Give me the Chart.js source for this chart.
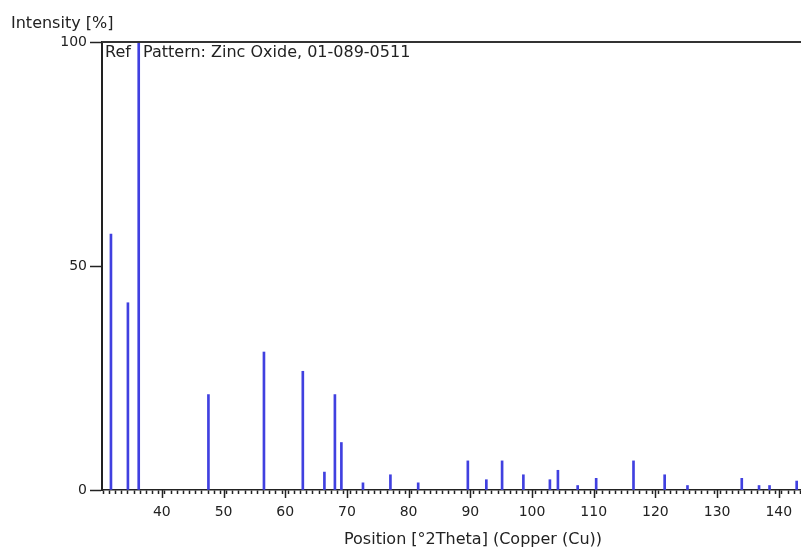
<!DOCTYPE html>
<html>
<head>
<meta charset="utf-8">
<script src="https://cdn.jsdelivr.net/npm/chart.js@4.4.1/dist/chart.umd.min.js"></script>
<style>
  html, body { margin: 0; padding: 0; background: #fff; }
  #wrap { width: 801px; height: 550px; }
</style>
</head>
<body>
<div id="wrap"><canvas id="xrd"></canvas></div>
<script>
// Zinc Oxide reference pattern (01-089-0511), Cu radiation
const positions = [31.75, 34.5, 36.25, 47.55, 56.55, 62.85, 66.35, 68.05, 69.1, 72.6, 77.05, 81.55,
  89.6, 92.6, 95.15, 98.6, 102.9, 104.2, 107.4, 110.4, 116.45, 121.5, 125.2, 134.0, 136.8, 138.5, 142.9];
const intensities = [57.1, 41.8, 100, 21.3, 30.8, 26.5, 4.0, 21.3, 10.6, 1.6, 3.4, 1.6,
  6.5, 2.3, 6.5, 3.4, 2.3, 4.4, 1.0, 2.6, 6.5, 3.4, 1.0, 2.6, 1.0, 1.0, 2.0];
const yTicks = [0, 50, 100];
const xRange = [30.8, 143.1];

const FONT = 'DejaVu Sans';
const INK = '#222';

const peaks = positions.map((p, i) => ({ x: p, y: intensities[i] }));

// frame line on top, long ticks every 10 degrees and the text labels
const decor = {
  id: 'decor',
  afterDraw(chart) {
    const { ctx, chartArea: a, scales: { x } } = chart;
    ctx.save();
    ctx.strokeStyle = '#333';
    ctx.lineWidth = 2;
    ctx.beginPath();
    ctx.moveTo(a.left, a.top);
    ctx.lineTo(chart.width, a.top);
    ctx.stroke();

    ctx.lineWidth = 1.5;
    ctx.strokeStyle = INK;
    for (let v = 40; v <= 140; v += 10) {
      const px = Math.round(x.getPixelForValue(v)) + 0.5;
      ctx.beginPath();
      ctx.moveTo(px, a.bottom);
      ctx.lineTo(px, a.bottom + 8);
      ctx.stroke();
    }

    ctx.fillStyle = INK;
    ctx.font = '16px "' + FONT + '"';
    ctx.textBaseline = 'alphabetic';
    ctx.textAlign = 'left';
    ctx.fillText('Intensity [%]', 11, 28);
    ctx.fillText('Ref', a.left + 3, 57);
    ctx.fillText('Pattern: Zinc Oxide, 01-089-0511', a.left + 41, 57);
    ctx.textAlign = 'center';
    ctx.fillText('Position [°2Theta] (Copper (Cu))', 473, 544);
    ctx.restore();
  }
};

new Chart(document.getElementById('xrd'), {
  type: 'bar',
  data: {
    datasets: [{
      label: 'Zinc Oxide',
      data: peaks,
      backgroundColor: '#4040e0',
      borderWidth: 0,
      barThickness: 2
    }]
  },
  options: {
    responsive: true,
    maintainAspectRatio: false,
    animation: false,
    layout: { padding: { top: 42, right: 0, left: 0, bottom: 0 } },
    plugins: {
      legend: { display: false },
      tooltip: { enabled: false }
    },
    scales: {
      x: {
        type: 'linear',
        min: xRange[0],
        max: xRange[1],
        afterBuildTicks(scale) {
          const t = [];
          for (let v = 31; v <= 143; v++) t.push({ value: v });
          scale.ticks = t;
        },
        afterFit(scale) {
          scale.height = 60;
          scale.paddingLeft = 0;
          scale.paddingRight = 0;
        },
        grid: {
          drawOnChartArea: false,
          tickLength: 4,
          tickColor: INK,
          tickWidth: 1.5
        },
        border: { color: INK, width: 1.5 },
        ticks: {
          autoSkip: false,
          maxRotation: 0,
          padding: 10,
          color: INK,
          font: { family: FONT, size: 14 },
          callback: (v) => (v % 10 === 0 ? String(v) : '')
        }
      },
      y: {
        min: 0,
        max: 100,
        afterBuildTicks(scale) {
          scale.ticks = yTicks.map(v => ({ value: v }));
        },
        afterFit(scale) {
          scale.width = 102;
          scale.paddingTop = 0;
          scale.paddingBottom = 0;
        },
        grid: {
          drawOnChartArea: false,
          tickLength: 12,
          tickColor: INK,
          tickWidth: 1.5
        },
        border: { color: INK, width: 2 },
        ticks: {
          padding: 3,
          color: INK,
          font: { family: FONT, size: 14 }
        }
      }
    }
  },
  plugins: [decor]
});
</script>
</body>
</html>
